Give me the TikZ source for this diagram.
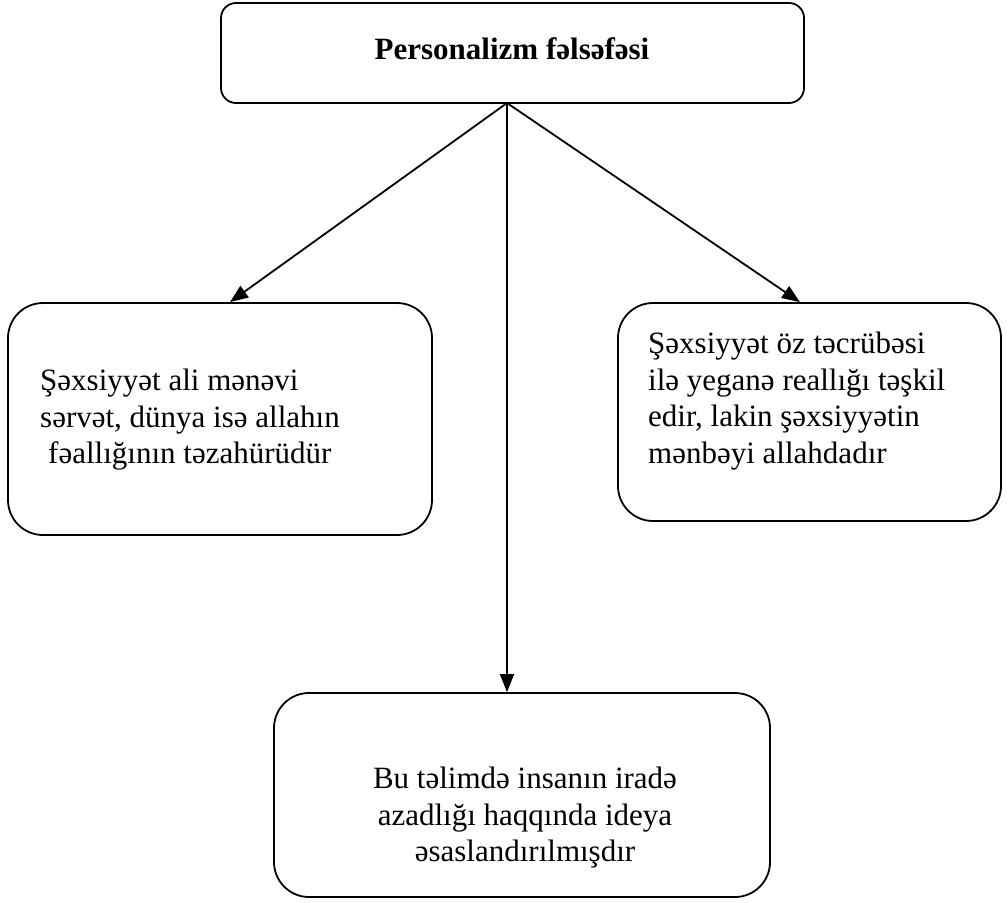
\documentclass[tikz,border=0pt]{standalone}
\usepackage{fontspec}
\setmainfont{Liberation Serif}
\usetikzlibrary{arrows.meta,positioning,calc}
\tikzset{panel/.style={draw,line width=1.8pt,rounded corners=35pt,inner sep=0pt}, caption/.style={font=\fontsize{31}{36.5}\selectfont,inner sep=0pt,align=left}, link/.style={-{Triangle[length=18pt,width=14pt]},line width=1.8pt}}

\begin{document}
\begin{tikzpicture}[x=1pt,y=-1pt]
\useasboundingbox (0,0) rectangle (1008,902);
\node[panel,rounded corners=15pt,minimum width=583pt,minimum height=100pt] (root) at (512.5,53) {};
\node[panel,minimum width=424pt,minimum height=232pt] (lbox) at (220,419) {};
\node[panel,minimum width=383pt,minimum height=218pt] (rbox) at (809.5,412) {};
\node[panel,minimum width=496pt,minimum height=204pt] (bbox) at (522,795) {};
\node[caption,font=\fontsize{31}{36.5}\selectfont\bfseries,anchor=north] (roottxt) at (512,37) {Personalizm fəlsəfəsi};
\node[caption,anchor=north west] (ltxt) at (40,369) {Şəxsiyyət ali mənəvi\\sərvət, dünya isə allahın\\\hspace*{8pt}fəallığının təzahürüdür};
\node[caption,anchor=north west] (rtxt) at (648,332) {Şəxsiyyət öz təcrübəsi\\ilə yeganə reallığı təşkil\\edir, lakin şəxsiyyətin\\mənbəyi allahdadır};
\node[caption,align=center,anchor=north] (btxt) at (525,767) {Bu təlimdə insanın iradə\\azadlığı haqqında ideya\\əsaslandırılmışdır};
\coordinate (hub) at (507,103);
\draw[link] (hub) -- ([xshift=10pt]lbox.north);
\draw[link] (hub) -- ([xshift=-9.5pt]rbox.north);
\draw[link] (hub) -- (hub |- bbox.north);
\end{tikzpicture}
\end{document}
